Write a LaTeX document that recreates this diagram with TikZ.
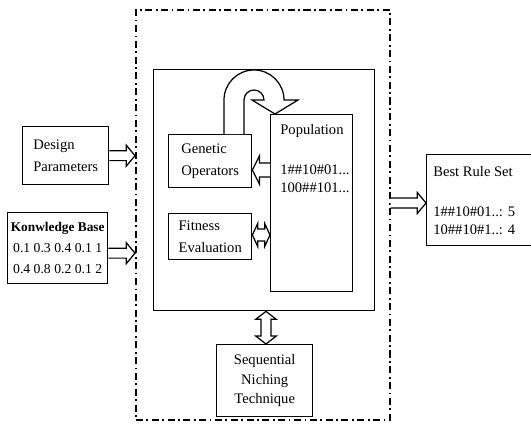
\documentclass[tikz,border=0pt]{standalone}
\usepackage{fontspec}
\setmainfont{Liberation Serif}
\usetikzlibrary{arrows.meta, positioning, calc}

% hollow block arrow: from, to, half shaft, half head, head length
\newcommand{\fatarrow}[5]{%
  \draw[hollow] ($(#1)!#3!90:(#2)$)
    -- ($($(#2)!#5!(#1)$)!#3!-90:(#1)$)
    -- ($($(#2)!#5!(#1)$)!#4!-90:(#1)$)
    -- (#2)
    -- ($($(#2)!#5!(#1)$)!#4!90:(#1)$)
    -- ($($(#2)!#5!(#1)$)!#3!90:(#1)$)
    -- ($(#1)!#3!-90:(#2)$);}
% same with a head at both ends
\newcommand{\fatdouble}[5]{%
  \draw[hollow] (#1)
    -- ($($(#1)!#5!(#2)$)!#4!90:(#2)$)
    -- ($($(#1)!#5!(#2)$)!#3!90:(#2)$)
    -- ($($(#2)!#5!(#1)$)!#3!-90:(#1)$)
    -- ($($(#2)!#5!(#1)$)!#4!-90:(#1)$)
    -- (#2)
    -- ($($(#2)!#5!(#1)$)!#4!90:(#1)$)
    -- ($($(#2)!#5!(#1)$)!#3!90:(#1)$)
    -- ($($(#1)!#5!(#2)$)!#3!-90:(#2)$)
    -- ($($(#1)!#5!(#2)$)!#4!-90:(#2)$)
    -- cycle;}

\begin{document}
\begin{tikzpicture}[
    x=0.02cm, y=-0.02cm,
    every node/.style={font=\fontsize{8.3}{12}\selectfont, inner sep=0pt},
    box/.style={draw, line width=0.8pt, anchor=north west, align=left},
    txt/.style={anchor=north west, align=left},
    frame/.style={draw, line width=1pt, anchor=north west,
                  dash pattern=on 4pt off 2pt on 1pt off 2pt},
    hollow/.style={draw, fill=white, line width=0.7pt, line join=miter}
]
\useasboundingbox (0,0) rectangle (531,424);

% outer frame and the GA block
\node[frame, minimum width=5.08cm, minimum height=8.2cm] (outer) at (135,9) {};
\node[box, minimum width=4.42cm, minimum height=4.82cm] (inner) at (153,69) {};

% inputs
\node[box, minimum width=1.72cm, minimum height=1.16cm] (design) at (22,126)
    {Design\\Parameters};
\node[box, align=center, minimum width=2.0cm, minimum height=1.42cm,
      font=\fontsize{7.8}{12}\selectfont] (kb) at (7,212)
    {\textbf{\fontsize{7.6}{12}\selectfont Konwledge Base}\\0.1 0.3 0.4 0.1 1\\0.4 0.8 0.2 0.1 2};

% inside the GA block
\node[box, minimum width=1.66cm, minimum height=1.06cm] (genop) at (168,134)
    {Genetic\\Operators};
\node[box, minimum width=1.66cm, minimum height=0.92cm] (fitness) at (168,213)
    {Fitness\\Evaluation};
\node[box, minimum width=1.64cm, minimum height=3.54cm] (pop) at (270,114) {};
\node[txt, font=\fontsize{8.3}{10}\selectfont] (poptext) at ([shift={(10,10)}]pop.north west)
    {Population\\[13pt]1\#\#10\#01...\\100\#\#101...};

% output and niching
\node[box, minimum width=2.2cm, minimum height=1.82cm] (best) at (426,154) {};
\node[txt, font=\fontsize{8.3}{10}\selectfont] (besttext) at ([shift={(7,12)}]best.north west)
    {Best Rule Set\\[13pt]1\#\#10\#01..: 5\\10\#\#10\#1..: 4};
\node[box, align=center, minimum width=1.92cm, minimum height=1.44cm,
      font=\fontsize{8.3}{11}\selectfont] (niche) at (216,344)
    {Sequential\\Niching\\Technique};

% connection points
\coordinate (din)  at (design.east -| outer.west);
\coordinate (kbout) at ([yshift=-0.1cm]kb.east);
\coordinate (kbin) at (kbout -| outer.west);
\coordinate (bout) at (outer.east |- 0,203);
\coordinate (bin)  at (best.west |- 0,203);
\coordinate (popg) at (pop.west |- 0,170);
\coordinate (gpop) at (genop.east |- 0,170);
\coordinate (fpop) at (fitness.east |- 0,235);
\coordinate (popf) at (pop.west |- 0,235);
\coordinate (ntop) at (niche.north -| 266,0);
\coordinate (ibot) at (inner.south -| 266,0);

% hollow arrows
\fatarrow{design.east}{din}{2.8pt}{6pt}{5pt}
\fatarrow{kbout}{kbin}{2.8pt}{6pt}{5pt}
\fatarrow{bout}{bin}{2.8pt}{6pt}{5pt}
\fatarrow{popg}{gpop}{4pt}{8pt}{4pt}
\fatdouble{fpop}{popf}{3.4pt}{6.5pt}{3pt}
\fatdouble{ibot}{ntop}{2.8pt}{5.8pt}{4.5pt}

% loop from the operators back into the population
\draw[hollow] (genop.north -| 224,0) -- (224,100)
    arc[start angle=180, end angle=360, radius=30] -- (298,100)
    -- (pop.north -| 275,0) -- (252,100) -- (264,100)
    arc[start angle=360, end angle=180, radius=10] -- (genop.north -| 244,0);
\end{tikzpicture}
\end{document}
